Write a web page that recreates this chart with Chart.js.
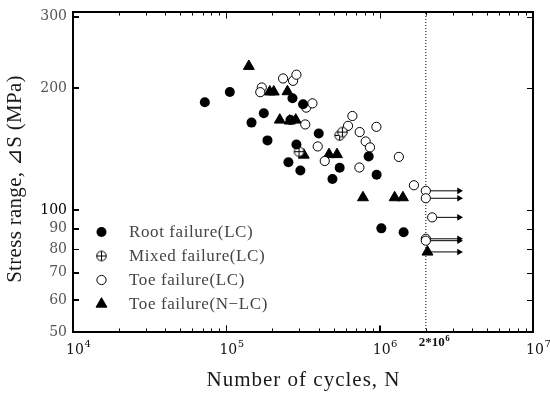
<!DOCTYPE html>
<html>
<head>
<meta charset="utf-8">
<script src="https://cdn.jsdelivr.net/npm/chart.js@4.4.0/dist/chart.umd.min.js"></script>
<style>
html,body{margin:0;padding:0;background:#fff;}
#wrap{width:550px;height:393px;position:relative;}
canvas{display:block;}
#frame{position:absolute;box-sizing:border-box;border:2px solid #000;border-top-width:1.5px;pointer-events:none;}
</style>
</head>
<body>
<div id="wrap"><canvas id="c" width="550" height="393"></canvas><div id="frame"></div></div>
<script>
// ---------------- data ----------------
const rootN = [72400, 105400, 146000, 175500, 185500, 254000, 270000, 262000, 286500, 304000, 316500, 400600, 492000, 548500, 847600, 955500, 1025600, 1433000];
const rootS = [184.5, 195.6, 164.3, 173.2, 148.5, 131.2, 188.6, 166.7, 145.1, 125.2, 182.3, 154.5, 119.3, 127.1, 135.6, 122.2, 90.1, 88.1];

const mixedN = [298000, 548500, 571400];
const mixedS = [139.3, 152.8, 155.7];

const toeN = [170300, 166500, 234500, 272400, 286500, 332000, 364500, 327100, 394500, 438400, 621700, 663800, 740800, 810700, 864700, 952000, 737600, 1334000, 1673000, 2000000, 2000000, 2200000, 2000000, 2000000];
const toeS = [200.6, 195.3, 211.1, 208.3, 215.7, 178.9, 183.3, 162.6, 143.5, 132.1, 161.3, 170.6, 155.7, 147.6, 142.7, 160.4, 127.3, 135.2, 115.1, 111.5, 106.9, 95.9, 84.9, 84.0];

const nlcN = [140200, 192000, 203900, 250400, 223100, 259300, 283700, 319900, 467500, 527000, 778500, 1252000, 1418000, 2050000];
const nlcS = [226.3, 195.7, 195.7, 196.0, 166.8, 165.9, 166.8, 136.7, 137.1, 137.1, 107.3, 107.3, 107.3, 78.8];

// run-outs (no failure at the reference life) drawn with arrows
const runoutN = [2000000, 2000000, 2200000, 2000000, 2000000, 2050000];
const runoutS = [111.5, 106.9, 95.9, 84.9, 84.0, 78.8];
const arrowEndN = 3300000;

const seriesNames = ['Root failure(LC)', 'Mixed failure(LC)', 'Toe failure(LC)', 'Toe failure(N\u2212LC)'];
const xMin = 1e4, xMax = 1e7;
const yMin = 50, yMax = 308;
const xTickValues = [1e4, 1e5, 1e6, 1e7];
const xTickExponents = ['4', '5', '6', '7'];
const xMinorMultipliers = [2, 3, 4, 5, 6, 7, 8, 9];
const yTickValues = [50, 60, 70, 80, 90, 100, 200, 300];
const refLife = 2000000;
const refLifeLabel = ['2*10', '6'];
const xTitle = 'Number of cycles, N';
const yTitle = 'Stress range, \u22BFS (MPa)';

// ---------------- styles ----------------
const INK = '#000';
const SERIF = '"DejaVu Serif", serif';
const TSERIF = '"Liberation Serif", serif';
function mixedIcon(){
  const c = document.createElement('canvas');
  c.width = 13; c.height = 13;
  const g = c.getContext('2d');
  g.strokeStyle = '#000'; g.lineWidth = 1; g.fillStyle = '#fff';
  g.beginPath(); g.arc(6.5, 6.5, 4.8, 0, Math.PI*2); g.fill(); g.stroke();
  g.beginPath();
  g.moveTo(1.7, 6.5); g.lineTo(11.3, 6.5);
  g.moveTo(6.5, 1.7); g.lineTo(6.5, 11.3);
  g.stroke();
  return c;
}
const MIXED_ICON = mixedIcon();
const markerStyles = [
  {pointStyle:'circle', radius:5, fill:'#000', stroke:'#000', borderWidth:0},
  {pointStyle:MIXED_ICON, radius:5, fill:'#fff', stroke:'#000', borderWidth:1},
  {pointStyle:'circle', radius:4.6, fill:'#fff', stroke:'#000', borderWidth:1},
  {pointStyle:'triangle', radius:6.3, fill:'#000', stroke:'#000', borderWidth:1}
];
const seriesData = [[rootN, rootS], [mixedN, mixedS], [toeN, toeS], [nlcN, nlcS]];

const toXY = (N, S) => N.map((n, i) => ({x: n, y: S[i]}));
const minorXTicks = [];
for (let i = 0; i < xTickValues.length - 1; i++) xMinorMultipliers.forEach(m => minorXTicks.push(m * xTickValues[i]));

function setSpacing(ctx, v){ if ('letterSpacing' in ctx) ctx.letterSpacing = v + 'px'; }

const datasets = seriesData.map((d, i) => ({
  label: seriesNames[i],
  data: toXY(d[0], d[1]),
  pointStyle: markerStyles[i].pointStyle,
  pointRadius: markerStyles[i].radius,
  pointHoverRadius: markerStyles[i].radius,
  backgroundColor: markerStyles[i].fill,
  borderColor: markerStyles[i].stroke,
  borderWidth: markerStyles[i].borderWidth,
  showLine: false
}));
runoutN.forEach((n, i) => {
  datasets.push({
    label: 'runout',
    data: [{x: n, y: runoutS[i]}, {x: arrowEndN, y: runoutS[i]}],
    showLine: true,
    borderColor: '#000',
    borderWidth: 1,
    backgroundColor: '#000',
    pointStyle: 'triangle',
    pointRotation: 90,
    pointRadius: [0, 3.8],
    pointBorderWidth: 0,
    pointHoverRadius: [0, 3.8]
  });
});
datasets.push({
  label: 'ref',
  data: [{x: refLife, y: yMin}, {x: refLife, y: yMax}],
  showLine: true,
  borderColor: '#000',
  borderWidth: 1,
  borderDash: [1, 2],
  pointRadius: 0,
  pointHoverRadius: 0
});

const decor = {
  id: 'decor',
  afterDraw(chart){
    const ctx = chart.ctx;
    const a = chart.chartArea;
    const x = chart.scales.x, y = chart.scales.y;
    // place the DOM frame exactly on the chart area
    const fr = document.getElementById('frame');
    fr.style.left = (a.left - 1) + 'px';
    fr.style.top = (a.top - 1) + 'px';
    fr.style.width = (a.right - a.left + 2) + 'px';
    fr.style.height = (a.bottom - a.top + 2) + 'px';
    ctx.save();
    ctx.strokeStyle = INK;
    ctx.lineWidth = 2;
    ctx.strokeRect(a.left, a.top, a.right - a.left, a.bottom - a.top);
    ctx.lineWidth = 1;
    xTickValues.forEach(v => {
      const p = Math.round(x.getPixelForValue(v)) + 0.5;
      ctx.beginPath();
      ctx.moveTo(p, a.top); ctx.lineTo(p, a.top + 6.5);
      ctx.moveTo(p, a.bottom); ctx.lineTo(p, a.bottom - 6.5);
      ctx.stroke();
    });
    minorXTicks.forEach(v => {
      const p = Math.round(x.getPixelForValue(v)) + 0.5;
      ctx.beginPath();
      ctx.moveTo(p, a.top); ctx.lineTo(p, a.top + 3.5);
      ctx.moveTo(p, a.bottom); ctx.lineTo(p, a.bottom - 3.5);
      ctx.stroke();
    });
    yTickValues.forEach(v => {
      const p = Math.round(y.getPixelForValue(v)) + 0.5;
      ctx.beginPath();
      ctx.moveTo(a.right, p); ctx.lineTo(a.right - 6, p);
      ctx.moveTo(a.left, p); ctx.lineTo(a.left + 6, p);
      ctx.stroke();
    });
    // x tick labels 10^n
    ctx.fillStyle = '#111';
    ctx.textBaseline = 'middle';
    xTickValues.forEach((v, i) => {
      const p = x.getPixelForValue(v);
      ctx.font = '14px ' + SERIF;
      ctx.textAlign = 'center';
      const w = ctx.measureText('10').width;
      ctx.fillText('10', p + 2, a.bottom + 18);
      ctx.font = '10px ' + SERIF;
      ctx.textAlign = 'left';
      ctx.fillText(xTickExponents[i], p + 2 + w/2 + 0.5, a.bottom + 12);
    });
    // reference-life label
    {
      const p = x.getPixelForValue(refLife);
      ctx.font = 'bold 13px ' + TSERIF;
      ctx.textAlign = 'left';
      const w = ctx.measureText(refLifeLabel[0]).width;
      ctx.fillText(refLifeLabel[0], p - 7, a.bottom + 11);
      ctx.font = 'bold 9px ' + TSERIF;
      ctx.fillText(refLifeLabel[1], p - 7 + w + 0.5, a.bottom + 7);
    }
    // axis titles
    ctx.fillStyle = '#1a1a1a';
    ctx.textAlign = 'center';
    ctx.textBaseline = 'middle';
    ctx.font = '21px ' + TSERIF;
    setSpacing(ctx, 1);
    ctx.fillText(xTitle, (a.left + a.right) / 2 + 0.5, a.bottom + 48);
    ctx.save();
    ctx.translate(15, (a.top + a.bottom) / 2 + 7);
    ctx.rotate(-Math.PI / 2);
    setSpacing(ctx, 0.3);
    ctx.fillText(yTitle, 0, 0);
    ctx.restore();
    setSpacing(ctx, 0);
    // legend
    const lx = a.left + 28.5, tx = a.left + 56, ly0 = a.top + 220, dy = 24;
    seriesNames.forEach((name, i) => {
      const st = markerStyles[i];
      const yy = ly0 + i * dy;
      ctx.fillStyle = st.fill; ctx.strokeStyle = st.stroke; ctx.lineWidth = st.borderWidth || 1;
      if (st.pointStyle instanceof HTMLCanvasElement){
        ctx.drawImage(st.pointStyle, lx - st.pointStyle.width/2, yy - st.pointStyle.height/2);
      } else {
        Chart.helpers.drawPoint(ctx, {pointStyle: st.pointStyle, radius: st.radius, borderWidth: st.borderWidth, rotation: 0}, lx, yy);
      }
      ctx.fillStyle = '#444';
      ctx.font = '17px ' + TSERIF;
      setSpacing(ctx, 0.6);
      ctx.textAlign = 'left';
      ctx.textBaseline = 'middle';
      ctx.fillText(name, tx, yy + 1);
      setSpacing(ctx, 0);
    });
    ctx.restore();
  }
};

new Chart(document.getElementById('c'), {
  type: 'scatter',
  data: {datasets},
  options: {
    responsive: false,
    animation: false,
    devicePixelRatio: 1,
    layout: {padding: {top: 12, right: 17, left: 0, bottom: 0}},
    plugins: {legend: {display: false}, tooltip: {enabled: false}},
    scales: {
      x: {
        type: 'logarithmic', position: 'bottom', min: xMin, max: xMax,
        grid: {display: true, drawOnChartArea: false, drawTicks: true, tickLength: -6.5, color: INK, tickColor: INK, tickWidth: 1},
        border: {display: true, color: INK, width: 2},
        ticks: {display: false},
        afterBuildTicks: s => { s.ticks = xTickValues.map(v => ({value: v})); },
        afterFit: s => { s.height = 61; s.paddingLeft = 0; s.paddingRight = 0; }
      },
      y: {
        type: 'logarithmic', position: 'left', min: yMin, max: yMax,
        grid: {display: true, drawOnChartArea: false, drawTicks: true, tickLength: -6, color: INK, tickColor: INK, tickWidth: 1},
        border: {display: true, color: INK, width: 2},
        ticks: {
          autoSkip: false, padding: 12,
          font: {family: SERIF, size: 14},
          color: c => (c.tick && c.tick.value === 100) ? '#000' : '#555',
          callback: v => yTickValues.includes(v) ? String(v) : ''
        },
        afterBuildTicks: s => { s.ticks = yTickValues.map(v => ({value: v})); },
        afterFit: s => { s.width = 73; s.paddingTop = 0; s.paddingBottom = 0; }
      }
    }
  },
  plugins: [decor]
});
</script>
</body>
</html>
